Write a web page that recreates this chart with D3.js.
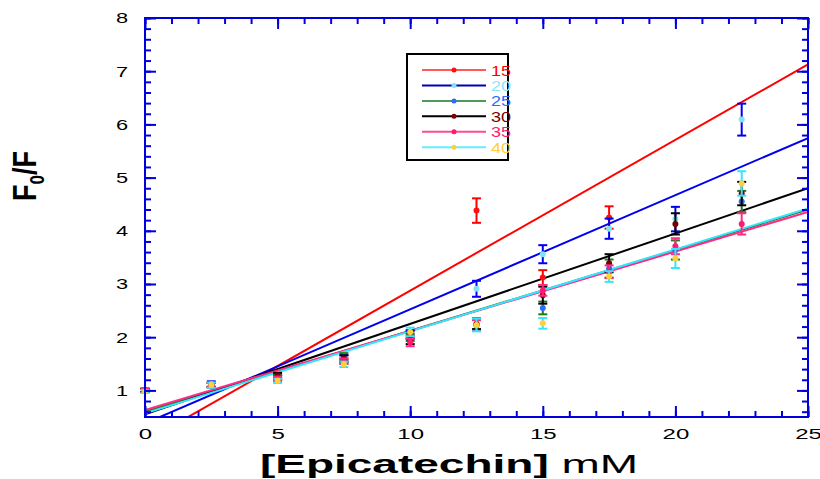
<!DOCTYPE html>
<html><head><meta charset="utf-8">
<script src="https://cdn.jsdelivr.net/npm/d3@7"></script>
<style>body{margin:0;background:#fff}svg{display:block}text{font-family:"Liberation Sans",Arial,sans-serif}</style>
</head><body><svg id="c" width="820" height="479"></svg>
<script>
const xValues = [0, 2.5, 5, 7.5, 10, 12.5, 15, 17.5, 20, 22.5];
const seriesNames = ["15", "20", "25", "30", "35", "40"];
const y15 = [1.00, 1.10, 1.23, 1.55, 2.05, 4.38, 3.12, 4.25, null, null];
const y20 = [1.00, 1.12, 1.25, 1.60, 2.05, 2.91, 3.56, 4.04, 4.22, 6.09];
const y25 = [1.00, 1.10, 1.25, 1.64, 2.00, 2.25, 2.55, 3.29, 3.64, 4.55];
const y30 = [1.00, 1.10, 1.28, 1.60, 1.95, 2.25, 2.79, 3.39, 4.13, 4.70];
const y35 = [1.00, 1.10, 1.22, 1.55, 1.90, 2.22, 2.88, 3.23, 3.71, 4.13];
const y40 = [0.98, 1.10, 1.18, 1.49, 2.10, 2.23, 2.26, 3.14, 3.48, 4.89];
const e15 = [0.03, 0.04, 0.04, 0.05, 0.07, 0.23, 0.14, 0.21, null, null];
const e20 = [0.03, 0.05, 0.04, 0.06, 0.08, 0.15, 0.17, 0.19, 0.23, 0.30];
const e25 = [0.03, 0.04, 0.05, 0.06, 0.07, 0.10, 0.12, 0.17, 0.18, 0.20];
const e30 = [0.03, 0.04, 0.05, 0.06, 0.08, 0.10, 0.16, 0.17, 0.20, 0.22];
const e35 = [0.03, 0.04, 0.04, 0.05, 0.07, 0.10, 0.10, 0.12, 0.15, 0.20];
const e40 = [0.03, 0.05, 0.04, 0.05, 0.08, 0.12, 0.10, 0.10, 0.18, 0.23];
const fitIntercept = [0.04, 0.38, 0.60, 0.55, 0.63, 0.57];
const fitSlope = [0.2835, 0.2145, 0.152, 0.170, 0.149, 0.154];
const xTicks = [0, 5, 10, 15, 20, 25];
const yTicks = [1, 2, 3, 4, 5, 6, 7, 8];

const lineColors = ["#ff0000", "#0000ee", "#1d7a1d", "#000000", "#ff2a85", "#33e6ff"];
const legendLineColors = ["#ff5a5a", "#0000b0", "#4f9a5a", "#000000", "#ff4a95", "#66ecff"];
const markerColors = ["#ff1010", "#7fe3f5", "#2b6bff", "#7a0000", "#ff1a70", "#ffd03a"];
const textColors = ["#ff0000", "#8fe6f7", "#2b6bff", "#7a0000", "#ff1a70", "#ffd03a"];
const axisColor = "#0000dd";

const ys = [y15, y20, y25, y30, y35, y40];
const es = [e15, e20, e25, e30, e35, e40];

const L = 145, R = 808, T = 18, B = 417;
const x = d3.scaleLinear().domain([0, 25]).range([L, R]);
const y = d3.scaleLinear().domain([0.5, 8]).range([B, T]);
const svg = d3.select("#c");

function stretch(sel, k) {
  sel.each(function () {
    const w = this.getComputedTextLength();
    d3.select(this).attr("textLength", w * k).attr("lengthAdjust", "spacingAndGlyphs");
  });
}

svg.append("defs").append("clipPath").attr("id", "clip")
  .append("rect").attr("x", L).attr("y", T).attr("width", R - L).attr("height", B - T);

// fit lines
const plot = svg.append("g").attr("clip-path", "url(#clip)");
seriesNames.forEach((n, i) => {
  const f = v => fitIntercept[i] + fitSlope[i] * v;
  plot.append("line")
    .attr("x1", x(0)).attr("y1", y(f(0)))
    .attr("x2", x(25)).attr("y2", y(f(25)))
    .attr("stroke", lineColors[i]).attr("stroke-width", 2);
});

// error bars and markers
seriesNames.forEach((n, i) => {
  const g = svg.append("g");
  const pts = xValues.map((v, j) => ({x: v, y: ys[i][j], e: es[i][j]})).filter(d => d.y != null);
  pts.forEach(d => {
    const cx = x(d.x), y1 = y(d.y + d.e), y2 = y(d.y - d.e);
    g.append("line").attr("x1", cx).attr("x2", cx).attr("y1", y1).attr("y2", y2)
      .attr("stroke", lineColors[i]).attr("stroke-width", 2);
    [y1, y2].forEach(yy => g.append("line").attr("x1", cx - 4.5).attr("x2", cx + 4.5)
      .attr("y1", yy).attr("y2", yy).attr("stroke", lineColors[i]).attr("stroke-width", 2));
    g.append("circle").attr("cx", cx).attr("cy", y(d.y)).attr("r", 3)
      .attr("fill", markerColors[i]);
  });
});

// axes (inward ticks on all sides)
function styleAxis(g) {
  g.select(".domain").remove();
  g.selectAll("line").attr("stroke", axisColor).attr("stroke-width", 2);
  g.selectAll("text").attr("fill", "#000").attr("font-size", 15);
}
const minorX = d3.range(0, 26, 1);
const minorY = d3.range(6, 81, 2).map(v => v / 10);

svg.append("g").attr("transform", `translate(0,${B})`)
  .call(d3.axisBottom(x).tickValues(minorX).tickSize(-6).tickFormat("")).call(styleAxis);
const xa = svg.append("g").attr("transform", `translate(0,${B})`)
  .call(d3.axisBottom(x).tickValues(xTicks).tickSize(-11).tickPadding(11).tickFormat(d3.format("d"))).call(styleAxis);
stretch(xa.selectAll("text"), 1.6);
svg.append("g").attr("transform", `translate(0,${T})`)
  .call(d3.axisTop(x).tickValues(minorX).tickSize(-6).tickFormat("")).call(styleAxis);
svg.append("g").attr("transform", `translate(0,${T})`)
  .call(d3.axisTop(x).tickValues(xTicks).tickSize(-11).tickFormat("")).call(styleAxis);

svg.append("g").attr("transform", `translate(${L},0)`)
  .call(d3.axisLeft(y).tickValues(minorY).tickSize(-6).tickFormat("")).call(styleAxis);
const ya = svg.append("g").attr("transform", `translate(${L},0)`)
  .call(d3.axisLeft(y).tickValues(yTicks).tickSize(-11).tickPadding(17).tickFormat(d3.format("d"))).call(styleAxis);
stretch(ya.selectAll("text"), 1.45);
svg.append("g").attr("transform", `translate(${R},0)`)
  .call(d3.axisRight(y).tickValues(minorY).tickSize(-6).tickFormat("")).call(styleAxis);
svg.append("g").attr("transform", `translate(${R},0)`)
  .call(d3.axisRight(y).tickValues(yTicks).tickSize(-11).tickFormat("")).call(styleAxis);

svg.append("rect").attr("x", L).attr("y", T).attr("width", R - L).attr("height", B - T)
  .attr("fill", "none").attr("stroke", axisColor).attr("stroke-width", 2);

// axis titles (horizontally stretched like the reference)
const xtg = svg.append("g").attr("transform", "translate(449,473) scale(1.77,1)");
const xt = xtg.append("text").attr("x", 0).attr("y", 0)
  .attr("text-anchor", "middle").attr("font-size", 26).attr("fill", "#000");
xt.append("tspan").attr("font-weight", "bold").text("[Epicatechin]");
xt.append("tspan").attr("font-weight", "normal").text(" mM");

const yt = svg.append("text").attr("transform", "translate(36,176) rotate(-90) scale(1,1.2)")
  .attr("text-anchor", "middle").attr("font-size", 27).attr("font-weight", "bold").attr("fill", "#000");
yt.append("tspan").text("F");
yt.append("tspan").attr("font-size", 17).attr("dy", 7).text("0");
yt.append("tspan").attr("dy", -7).text("/F");

// legend
const lg = svg.append("g");
lg.append("rect").attr("x", 407).attr("y", 54).attr("width", 101).attr("height", 106)
  .attr("fill", "#fff").attr("stroke", "#000").attr("stroke-width", 2);
seriesNames.forEach((n, i) => {
  const yy = 70 + i * 15.45;
  lg.append("line").attr("x1", 422).attr("x2", 486).attr("y1", yy).attr("y2", yy)
    .attr("stroke", legendLineColors[i]).attr("stroke-width", 2);
  lg.append("circle").attr("cx", 454).attr("cy", yy).attr("r", 2.5).attr("fill", markerColors[i]);
  lg.append("text").attr("x", 491).attr("y", yy + 5.5).attr("font-size", 15)
    .attr("fill", textColors[i]).text(n);
});
stretch(lg.selectAll("text"), 1.2);
</script></body></html>
